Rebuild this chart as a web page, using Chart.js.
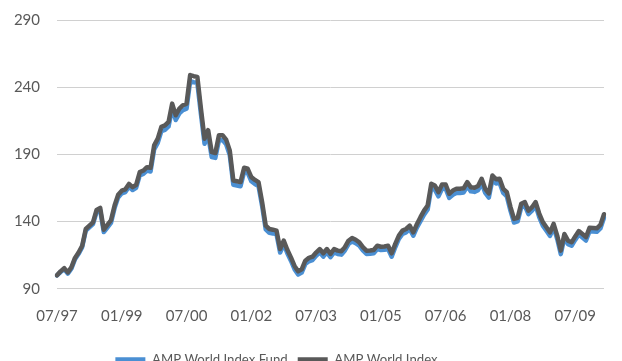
<!DOCTYPE html>
<html>
<head>
<meta charset="utf-8">
<script src="https://cdn.jsdelivr.net/npm/chart.js@4.4.1/dist/chart.umd.min.js"></script>
<style>
  html, body { margin: 0; padding: 0; background: #ffffff; overflow: hidden; }
  #wrap { position: absolute; left: 0; top: 0; width: 622px; height: 376px; }
</style>
</head>
<body>
<div id="wrap"><canvas id="c"></canvas></div>
<script>
// Month categories, 07/97 onward
const startYear = 1997, startMonth = 7, monthCount = 153;
const categories = [];
for (let k = 0; k < monthCount; k++) {
  const mIdx = startMonth - 1 + k;
  const m = mIdx % 12 + 1;
  const y = (startYear + Math.floor(mIdx / 12)) % 100;
  categories.push(String(m).padStart(2, '0') + '/' + String(y).padStart(2, '0'));
}

const tickLabels = ['07/97', '01/99', '07/00', '01/02', '07/03', '01/05', '07/06', '01/08', '07/09'];
const yTicks = [90, 140, 190, 240, 290];

const worldIndex = [
  100, 103, 105.4, 102.2, 106, 113, 117, 122, 134.5, 137,
  139.5, 148.7, 150.2, 134, 137.5, 141, 152, 160, 163, 164,
  168, 165.6, 167.4, 176.8, 178, 180.5, 180, 196.7, 201.7, 210.5,
  211.6, 214.2, 227.8, 219.1, 224.1, 226.6, 227.8, 249, 248.2, 247.7,
  224, 201.7, 208, 191.7, 191, 204.2, 204.2, 201, 193, 170.6,
  170, 169.4, 180.1, 179.3, 173.1, 171, 169.4, 154.5, 137, 134.5,
  134, 133.3, 119.6, 125.8, 119, 113.4, 107, 103, 104.5, 110.9,
  113, 113.9, 117, 119.6, 116.4, 119.6, 116, 119.6, 118.4, 117.9,
  121, 125.8, 127.8, 126.5, 124.6, 121, 118.4, 118.5, 118.9, 122.1,
  121.3, 121.5, 122.1, 116.4, 123.4, 129.6, 133.3, 134.5, 137, 132,
  138, 143.3, 148.2, 152, 168.1, 166.9, 161.9, 167.6, 167.6, 160.7,
  163.1, 164.4, 164.4, 164.8, 169.4, 165.6, 165.2, 166.5, 171.9, 164.4,
  161, 174.3, 171.5, 171.9, 164.4, 161.9, 151, 142, 142.8, 153.3,
  154.5, 148.2, 150.7, 154.5, 146, 139.6, 135.8, 132, 138.3, 129.6,
  118.4, 130.8, 125.8, 124.6, 129, 133, 130.8, 128.5, 135.5, 135.3,
  135, 137.5, 145.5
];

const worldIndexFund = [
  100, 102.5, 104.6, 101.3, 105, 112, 116, 121, 133.3, 135.8,
  138.2, 147, 148.4, 132.2, 135.6, 139, 150, 158, 161, 162,
  166, 163.5, 165.2, 174.4, 175.5, 178, 177.3, 193.8, 198.6, 207.3,
  208.3, 210.8, 224.3, 215.6, 220.5, 222.9, 224, 244.5, 243.7, 243.2,
  219.8, 197.9, 204.2, 188, 187.4, 200.5, 200.6, 197.5, 189.6, 167.4,
  166.9, 166.3, 177, 176.2, 170, 168, 166.4, 151.6, 134.2, 131.7,
  131.2, 130.6, 117, 123.2, 116.5, 110.9, 104.6, 100.6, 102.1, 108.4,
  110.5, 111.4, 114.5, 117.1, 113.9, 117.1, 113.5, 117.1, 115.9, 115.4,
  118.5, 123.3, 125.3, 124, 122.1, 118.5, 115.9, 116, 116.4, 119.6,
  118.8, 119, 119.6, 113.9, 120.9, 127.1, 130.8, 132, 134.5, 129.5,
  135.5, 140.4, 145.2, 149, 165, 163.8, 158.8, 164.5, 164.5, 157.6,
  160, 161.3, 161.3, 161.7, 166.3, 162.5, 162.1, 163.4, 168.8, 161.3,
  157.9, 171.2, 168.4, 168.8, 161.3, 158.8, 148.2, 139.3, 140.1, 150.6,
  151.8, 145.6, 148.1, 151.9, 143.4, 137, 133.2, 129.4, 135.7, 127,
  115.8, 128.2, 123.2, 122, 126.4, 130.4, 128.2, 125.9, 132.9, 132.7,
  132.4, 134.9, 142.9
];

const FONT = 'Lato, "Open Sans", sans-serif';
const TEXT = '#595959';

const legendShift = {
  id: 'legendShift',
  afterLayout(chart) {
    if (chart.legend) {
      chart.legend.right = chart.legend.left + 553;
    }
  }
};

new Chart(document.getElementById('c'), {
  type: 'line',
  data: {
    labels: categories,
    datasets: [
      {
        label: 'AMP World Index',
        data: worldIndex,
        borderColor: '#595959',
        backgroundColor: '#595959',
        borderWidth: 4.5,
        pointRadius: 0,
        tension: 0,
        borderJoinStyle: 'round',
        borderCapStyle: 'round'
      },
      {
        label: 'AMP World Index Fund',
        data: worldIndexFund,
        borderColor: '#4a8fd3',
        backgroundColor: '#4a8fd3',
        borderWidth: 4.5,
        pointRadius: 0,
        tension: 0,
        borderJoinStyle: 'round',
        borderCapStyle: 'round'
      }
    ]
  },
  options: {
    responsive: true,
    maintainAspectRatio: false,
    animation: false,
    layout: { padding: { top: 20, right: 0, bottom: 0, left: 0 } },
    plugins: {
      tooltip: { enabled: false },
      legend: {
        position: 'bottom',
        labels: {
          sort: (a, b) => b.datasetIndex - a.datasetIndex,
          usePointStyle: true,
          pointStyle: 'line',
          pointStyleWidth: 30,
          boxHeight: 4,
          padding: 10,
          color: TEXT,
          font: { family: FONT, size: 13.2 }
        }
      }
    },
    scales: {
      x: {
        type: 'category',
        offset: false,
        grid: { display: false, drawTicks: false },
        border: { display: false },
        ticks: {
          autoSkip: false,
          maxRotation: 0,
          minRotation: 0,
          padding: 18,
          color: TEXT,
          font: { family: FONT, size: 15 },
          callback: function (val, idx) {
            const lab = categories[idx];
            return tickLabels.includes(lab) ? lab : '';
          }
        },
        afterFit(scale) { scale.height = 54; }
      },
      y: {
        min: 90,
        max: 290,
        afterBuildTicks(scale) { scale.ticks = yTicks.map(v => ({ value: v })); },
        grid: { color: '#d0d0d0', lineWidth: 1, drawTicks: false },
        border: { display: false },
        ticks: {
          padding: 17,
          color: TEXT,
          font: { family: FONT, size: 15 }
        },
        afterFit(scale) {
          scale.width = 57;
          scale.paddingTop = 4;
          scale.paddingBottom = 4;
        }
      }
    }
  },
  plugins: [legendShift]
});
</script>
</body>
</html>
